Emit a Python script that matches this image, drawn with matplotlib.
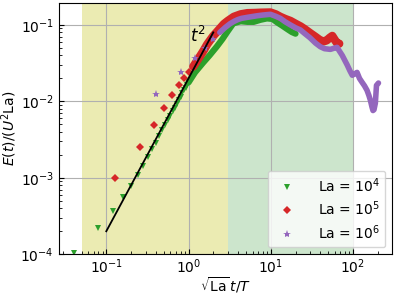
import numpy as np
import matplotlib
matplotlib.use('Agg')
import matplotlib.pyplot as plt

# La = 1e4 : early markers are separate, later ones overlap into a band
green_t = [0.04, 0.08, 0.12, 0.16, 0.20, 0.24, 0.28, 0.32, 0.36, 0.40,
           0.44, 0.48, 0.52, 0.56, 0.60, 0.64, 0.68, 0.72, 0.76, 0.80,
           0.84, 0.88, 0.92, 0.96, 1.00, 1.2, 1.5, 1.8, 2.2, 2.6, 3.0,
           3.5, 4.3, 5.2, 6.2, 7.5, 9.0, 10.5, 12.0, 14.0, 16.0, 18.0, 20.0]
green_E = [1.05e-4, 2.2e-4, 3.7e-4, 5.6e-4, 7.9e-4, 1.1e-3, 1.45e-3, 1.85e-3,
           2.4e-3, 2.9e-3, 3.5e-3, 4.2e-3, 4.9e-3, 5.7e-3, 6.5e-3, 7.4e-3,
           8.3e-3, 9.3e-3, 0.0104, 0.0115, 0.0127, 0.0139, 0.0151, 0.0164,
           0.0177, 0.024, 0.032, 0.040, 0.052, 0.066, 0.083, 0.105, 0.112,
           0.110, 0.110, 0.117, 0.122, 0.120, 0.108, 0.097, 0.088, 0.081,
           0.077]

# La = 1e5
red_t = [0.127, 0.254, 0.381, 0.508, 0.635, 0.762, 0.889, 1.016, 1.143,
         1.27, 1.40, 1.52, 1.69, 2.0, 2.23, 2.69, 3.0, 3.55, 4.3, 5.2, 6.5,
         7.5, 9.9, 11.5, 13.1, 15.0, 17.4, 20.0, 23.0, 26.0, 30.3, 35.0,
         40.0, 44.0, 48.0, 52.0, 56.0, 60.0, 64.0, 68.0]
red_E = [1.0e-3, 2.5e-3, 4.9e-3, 8.2e-3, 0.0122, 0.0164, 0.0201, 0.0243,
         0.0286, 0.034, 0.040, 0.046, 0.056, 0.072, 0.082, 0.103, 0.113,
         0.128, 0.138, 0.143, 0.144, 0.145, 0.146, 0.138, 0.128, 0.120,
         0.113, 0.104, 0.096, 0.088, 0.078, 0.070, 0.063, 0.061, 0.063,
         0.068, 0.072, 0.064, 0.058, 0.057]

# La = 1e6
purple_t = [0.4, 0.8, 1.2, 1.6, 2.0, 2.4, 2.8, 3.2, 3.6, 4.0, 4.4, 5.2, 6.8,
            8.0, 9.9, 11.5, 13.1, 15.0, 17.4, 20.0, 23.0, 26.0, 30.0, 35.0,
            40.0, 45.0, 53.0, 60.0, 64.0, 68.0, 74.0, 80.0, 85.0, 92.0, 98.0,
            105.0, 112.0, 120.0, 128.0, 138.0, 148.0, 156.0, 163.0, 170.0,
            175.0, 180.0, 187.0, 193.0, 204.0]
purple_E = [0.0126, 0.0245, 0.0365, 0.050, 0.065, 0.080, 0.093, 0.104, 0.112,
            0.118, 0.122, 0.126, 0.132, 0.135, 0.138, 0.130, 0.122, 0.110,
            0.100, 0.092, 0.086, 0.077, 0.068, 0.058, 0.052, 0.049, 0.048,
            0.050, 0.051, 0.046, 0.040, 0.034, 0.030, 0.025, 0.022, 0.023,
            0.024, 0.020, 0.018, 0.016, 0.014, 0.012, 0.0103, 0.0085, 0.0076,
            0.0078, 0.0095, 0.0162, 0.0174]

labels = ['La = $10^4$', 'La = $10^5$', 'La = $10^6$']

# t^2 guide line end points
guide_t = [0.1, 2.0]
guide_E = [2e-4, 0.08]

series = [
    (green_t, green_E, 'tab:green', 'v', 5, 1.0, 4.5),
    (red_t, red_E, 'tab:red', 'D', 4.5, 1.1, 6.0),
    (purple_t, purple_E, 'tab:purple', '*', 6, 2.3, 4.0),
]

fig = plt.figure(figsize=(3.95, 2.96), dpi=100)
ax = fig.add_axes([0.149, 0.141, 0.844, 0.850])

ax.axvspan(0.05, 3, color='y', alpha=0.3, lw=0)
ax.axvspan(3, 100, color='g', alpha=0.2, lw=0)

handles = []
for (t, E, color, marker, ms, cut, lw), label in zip(series, labels):
    t = np.array(t)
    E = np.array(E)
    early = t <= cut
    late = t >= cut
    h, = ax.plot(t[early], E[early], linestyle='none', marker=marker,
                 ms=ms, color=color, mew=0, label=label)
    ax.plot(t[late], E[late], '-', color=color, lw=lw,
            solid_capstyle='round', solid_joinstyle='round')
    handles.append(h)

ax.plot(guide_t, guide_E, 'k-', lw=1.3)
ax.text(1.29, 0.072, '$t^2$', fontsize=12, ha='center', va='center')

ax.set_xscale('log')
ax.set_yscale('log')
ax.set_xlim(0.0265, 300)
ax.set_ylim(1e-4, 0.196)
ax.grid(True, which='major', color='#b0b0b0', lw=0.8)
ax.tick_params(which='both', direction='in', labelsize=10)
ax.tick_params(axis='x', which='both', pad=2)
ax.set_xlabel(r'$\sqrt{\mathrm{La}}\,t/T$', fontsize=10, labelpad=0)
ax.set_ylabel(r'$E(t)/(U^2\mathrm{La})$', fontsize=10, labelpad=1)

ax.legend(handles=handles, loc='lower right', fontsize=10,
          labelspacing=0.35, borderpad=0.4, handletextpad=1.2)

fig.savefig('out.png', dpi=100)
